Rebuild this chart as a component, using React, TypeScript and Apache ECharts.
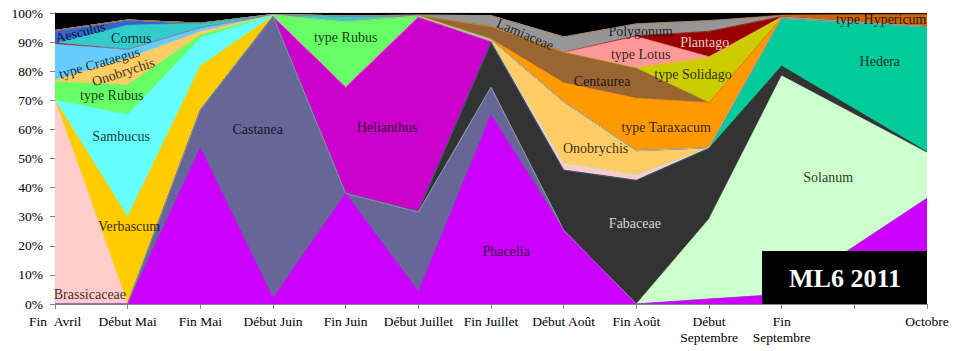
import React, { useEffect, useRef } from "react";
import * as echarts from "echarts";

// x-axis tick labels (13 ticks, the 12th has no label and no sample)
const tickLabels = [
  "Fin\u00a0\u00a0Avril", "Début Mai", "Fin Mai", "Début Juin", "Fin Juin",
  "Début Juillet", "Fin Juillet", "Début Août", "Fin Août",
  "Début\nSeptembre", "Fin\nSeptembre", "", "Octobre",
];
// positions of the sampled dates on the axis
const samplePos = [0, 1, 2, 3, 4, 5, 6, 7, 8, 9, 10, 12];

// percentages per taxon (bottom of stack first)
const phacelia =     [0, 0, 53.7, 2, 38, 4.2, 65, 25.4, 0, 1.7, 3.3, 36.3];
const castanea =     [0, 0, 13, 96.8, 0, 27.4, 9.5, 0, 0, 0, 0, 0];
const solanum =      [0, 0, 0, 0, 0, 0, 0, 0, 0, 27.5, 75.1, 15.7];
const fabaceae =     [0, 0, 0, 0, 0, 0.2, 15.3, 20.6, 42.5, 24.3, 3.4, 0.3];
const hedera =       [0, 0, 0, 0, 0, 0, 0, 0, 0, 0, 16.4, 43];
const helianthus =   [0, 0, 0, 0, 36.6, 66.8, 0.4, 0, 0, 0, 0, 0];
const brassicaceae = [70.1, 0, 0, 0, 0, 0, 0.1, 2.5, 2, 0.2, 0, 0];
const verbascum =    [0, 30, 15.1, 0.2, 0, 0.2, 0, 0, 0, 0, 0, 0];
const sambucus =     [0, 35, 9.6, 0.2, 0, 0, 0, 0, 0, 0, 0, 0];
const rubus =        [6.3, 10.3, 1, 0.1, 22.4, 0.2, 0.3, 0, 0, 0, 0, 0];
const onobrychis =   [0.6, 9.1, 1.2, 0, 0, 0, 0.3, 21, 8.2, 0, 0, 0];
const crataegus =    [12.3, 3.1, 1.4, 0.1, 0, 0, 0, 0, 0, 0, 0, 0];
const rougeNonNomme = [0.4, 0, 0, 0, 0, 0, 0, 0, 0, 0, 0, 0];
const cornus =       [0, 8.3, 1.5, 0.1, 2, 0, 0, 0, 0, 0, 0, 0];
const aesculus =     [4.3, 1.8, 0, 0, 0, 0, 0, 0, 0, 0, 0, 0];
const taraxacum =    [0, 0, 0, 0, 0, 0, 0.2, 6.5, 18, 15.5, 0.2, 0];
const centaurea =    [0, 0, 0, 0, 0, 0.1, 4.2, 10.5, 10.3, 0, 0, 0];
const solidago =     [0, 0, 0, 0, 0, 0, 0, 0, 0.2, 15.5, 0.2, 0];
const lotus =        [0, 0, 0, 0, 0, 0, 0, 0, 10.7, 0.3, 0, 0];
const plantago =     [0, 0, 0, 0, 0, 0, 0, 0, 0.3, 8.7, 0.2, 0];
const lamiaceae =    [0, 0, 0, 0, 0, 0.2, 3.8, 5.3, 0, 0, 0, 0];
const polygonum =    [0, 0, 0, 0, 0, 0, 0, 0, 4.1, 3.7, 0.2, 0];
const hypericum =    [0, 0, 0, 0, 0, 0, 0, 0, 0, 0, 0.3, 4.3];
const autres =       [6.0, 2.4, 3.5, 0.5, 1.0, 0.7, 0.9, 8.2, 3.7, 2.6, 0.7, 0.4];

const seriesDefs: [string, number[], string][] = [
  ["Phacelia", phacelia, "#CC00FF"],
  ["Castanea", castanea, "#666699"],
  ["Solanum", solanum, "#CCFFCC"],
  ["Fabaceae", fabaceae, "#333333"],
  ["Hedera", hedera, "#00CC99"],
  ["Helianthus", helianthus, "#CC00CC"],
  ["Brassicaceae", brassicaceae, "#FFCCCC"],
  ["Verbascum", verbascum, "#FFCC00"],
  ["Sambucus", sambucus, "#66FFFF"],
  ["type Rubus", rubus, "#66FF66"],
  ["Onobrychis", onobrychis, "#FFCC66"],
  ["type Crataegus", crataegus, "#66CCFF"],
  ["non nommé", rougeNonNomme, "#CC0000"],
  ["Cornus", cornus, "#33CCCC"],
  ["Aesculus", aesculus, "#3366CC"],
  ["type Taraxacum", taraxacum, "#FF9900"],
  ["Centaurea", centaurea, "#996633"],
  ["type Solidago", solidago, "#CCCC00"],
  ["type Lotus", lotus, "#FF9999"],
  ["Plantago", plantago, "#990000"],
  ["Lamiaceae", lamiaceae, "#969696"],
  ["Polygonum", polygonum, "#969696"],
  ["type Hypericum", hypericum, "#CC6600"],
  ["Autres", autres, "#000000"],
];

// in-chart labels: name, x (axis position), y (%), rotation, colour
const areaLabels: [string, number, number, number, string][] = [
  ["Aesculus", 0.35, 93.3, 14, "#000"],
  ["Cornus", 1.05, 91.4, 0, "#000"],
  ["type Crataegus", 0.61, 82.8, 16, "#000"],
  ["Onobrychis", 0.94, 79.7, 18, "#000"],
  ["type Rubus", 0.78, 71.5, 0, "#000"],
  ["Sambucus", 0.91, 57.7, 0, "#000"],
  ["Verbascum", 1.02, 26.8, 0, "#000"],
  ["Brassicaceae", 0.48, 3.4, 0, "#000"],
  ["Castanea", 2.79, 59.8, 0, "#000"],
  ["type Rubus", 4.0, 91.6, 0, "#000"],
  ["Helianthus", 4.57, 60.8, 0, "#000"],
  ["Phacelia", 6.21, 17.9, 0, "#000"],
  ["Lamiaceae", 6.47, 92.6, -23, "#000"],
  ["Polygonum", 8.06, 93.5, 0, "#000"],
  ["type Lotus", 8.06, 85.9, 0, "#000"],
  ["Plantago", 8.94, 89.7, 0, "#fff"],
  ["Centaurea", 7.53, 76.6, 0, "#000"],
  ["type Solidago", 8.78, 78.7, 0, "#000"],
  ["type Taraxacum", 8.41, 60.8, 0, "#000"],
  ["Onobrychis", 7.44, 53.6, 0, "#000"],
  ["Fabaceae", 7.98, 27.8, 0, "#fff"],
  ["Solanum", 10.64, 43.3, 0, "#000"],
  ["Hedera", 11.35, 83.2, 0, "#000"],
  ["type Hypericum", 11.37, 97.6, 0, "#000"],
];

const FONT = "'Liberation Serif', 'Times New Roman', serif";

export default function App() {
  const ref = useRef<HTMLDivElement>(null);
  useEffect(() => {
    if (!ref.current) return;
    const chart = echarts.init(ref.current, undefined, { renderer: "svg" });

    // cumulative tops of each band (the 100 % stack), bottom band first
    const running = samplePos.map(() => 0);
    const cumulative = seriesDefs.map(([, vals]) =>
      vals.map((v, i) => {
        running[i] += v;
        return running[i];
      })
    );

    // draw from the top band down, each filled to the axis, lower ones on top
    const areaSeries = seriesDefs
      .map(([name, , color], k) => ({
        name,
        type: "line",
        z: 2,
        data: samplePos.map((x, i) => [x, cumulative[k][i]]),
        showSymbol: false,
        symbol: "none",
        lineStyle: { width: 0.6, color },
        itemStyle: { color },
        areaStyle: { color, opacity: 1, origin: "start" },
        emphasis: { disabled: true },
        silent: true,
      }))
      .reverse();

    const labelSeries = {
      type: "scatter",
      name: "labels",
      z: 10,
      symbolSize: 1,
      itemStyle: { color: "rgba(0,0,0,0)" },
      silent: true,
      data: areaLabels.map(([n, x, y, rot, col]) => ({
        value: [x, y],
        label: {
          show: true,
          position: "inside",
          formatter: n,
          rotate: rot,
          color: col,
          fontFamily: FONT,
          fontSize: 14,
          align: "center",
          verticalAlign: "middle",
        },
      })),
    };
    chart.setOption({
      animation: false,
      grid: { left: 55, right: 33, top: 13, bottom: 47, containLabel: false },
      xAxis: {
        type: "value",
        min: 0,
        max: 12,
        interval: 1,
        splitLine: { show: false },
        axisLine: { show: true, lineStyle: { color: "#868686", width: 1 } },
        axisTick: { show: true, length: 5, lineStyle: { color: "#868686" } },
        axisLabel: {
          formatter: (v: number) => tickLabels[Math.round(v)] ?? "",
          color: "#000",
          fontFamily: FONT,
          fontSize: 13.5,
          lineHeight: 16,
          margin: 9,
          showMinLabel: true,
          showMaxLabel: true,
        },
      },
      yAxis: {
        type: "value",
        min: 0,
        max: 100,
        interval: 10,
        splitLine: { show: false },
        axisLine: { show: true, lineStyle: { color: "#868686", width: 1 } },
        axisTick: { show: true, length: 5, lineStyle: { color: "#868686" } },
        axisLabel: {
          formatter: "{value}%",
          color: "#000",
          fontFamily: FONT,
          fontSize: 13.5,
          margin: 12,
        },
      },
      series: [...areaSeries, labelSeries],
      graphic: [
        {
          type: "rect",
          left: 762,
          top: 251,
          z: 100,
          shape: { width: 165, height: 53 },
          style: { fill: "#000" },
        },
        {
          type: "text",
          x: 845,
          y: 278,
          z: 101,
          style: {
            text: "ML6 2011",
            fill: "#fff",
            font: `bold 26px ${FONT}`,
            align: "center",
            verticalAlign: "middle",
          },
        },
      ],
    });
    return () => chart.dispose();
  }, []);
  return (
    <div
      ref={ref}
      style={{ position: "fixed", left: 0, top: 0, width: 960, height: 351, background: "#fff" }}
    />
  );
}
